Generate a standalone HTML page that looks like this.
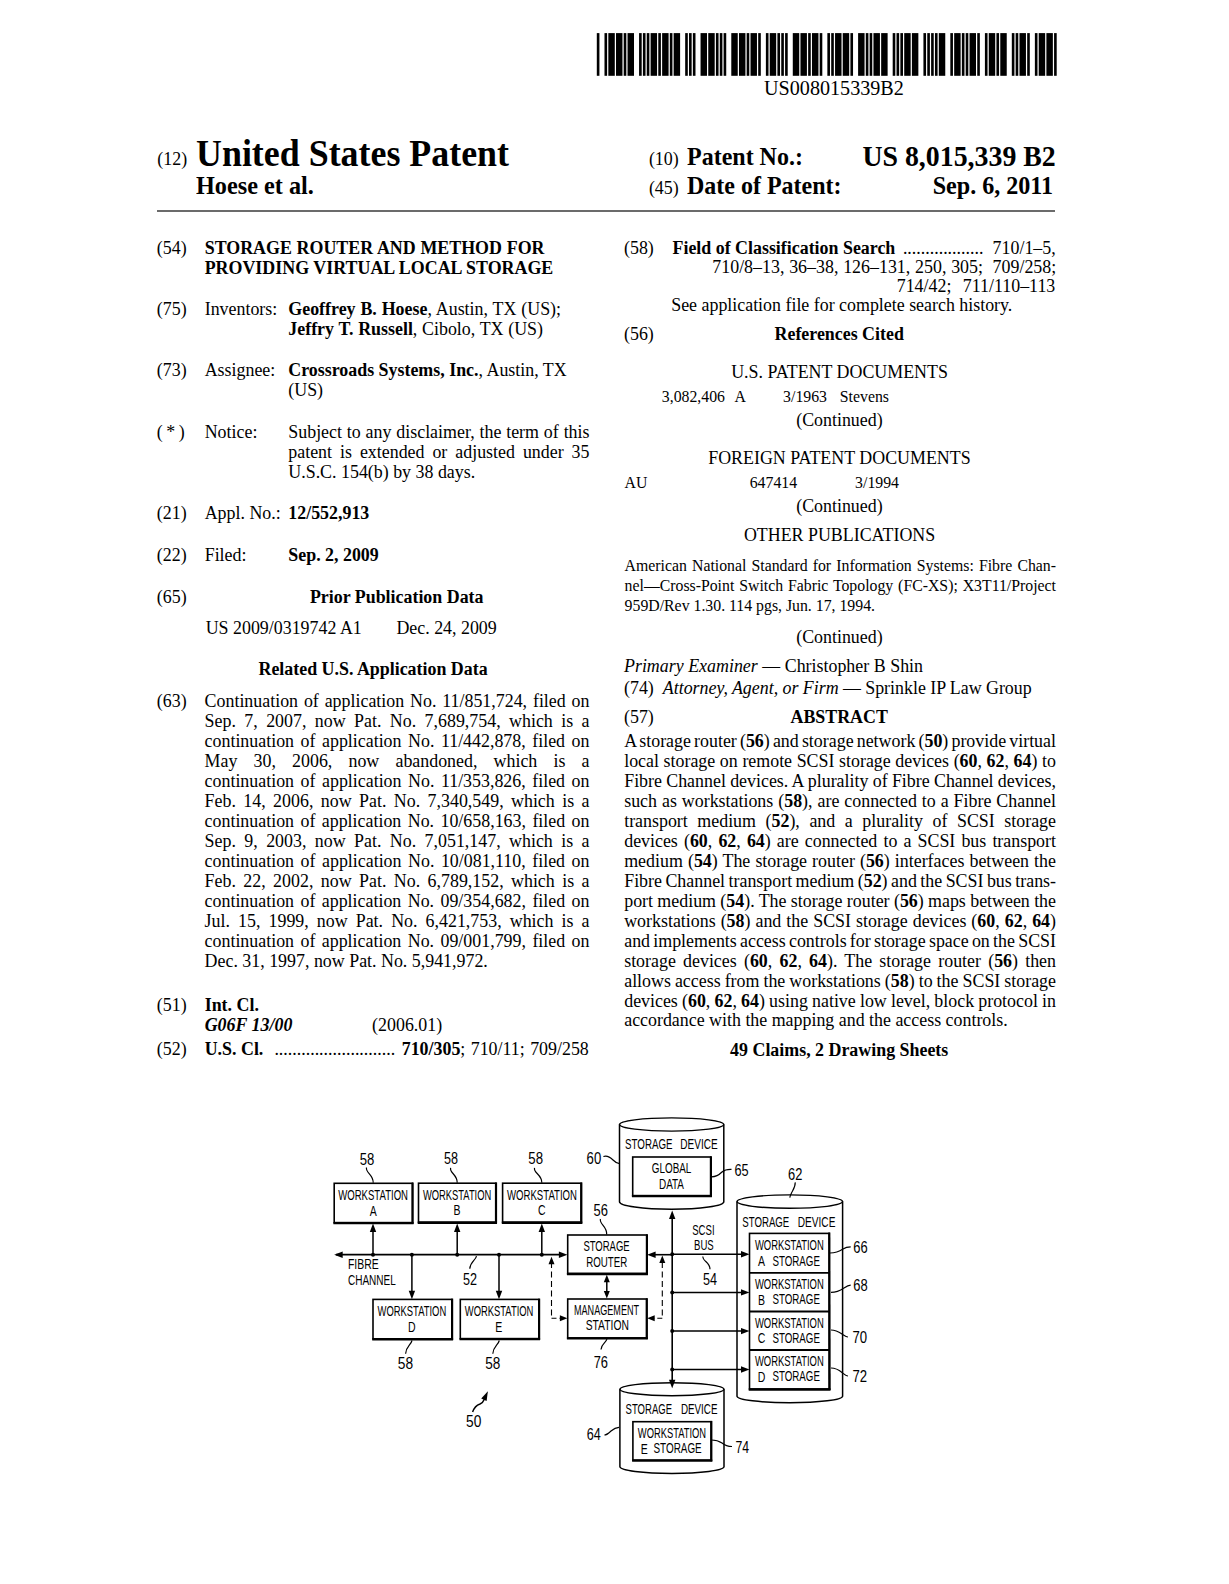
<!DOCTYPE html><html><head><meta charset="utf-8"><style>
html,body{margin:0;padding:0;background:#fff;}
body{width:1229px;height:1584px;position:relative;overflow:hidden;}
.l{position:absolute;white-space:nowrap;line-height:0;font-family:"Liberation Serif",serif;color:#000;}
.l b{font-weight:bold}
svg{position:absolute;left:0;top:0;}
</style></head><body>
<svg width="1229" height="120" style="position:absolute;left:0;top:0"><g fill="#000"><rect x="596.80" y="33.1" width="2.62" height="42.699999999999996"/><rect x="604.49" y="33.1" width="2.62" height="42.699999999999996"/><rect x="608.33" y="33.1" width="6.46" height="42.699999999999996"/><rect x="616.01" y="33.1" width="6.46" height="42.699999999999996"/><rect x="623.70" y="33.1" width="2.62" height="42.699999999999996"/><rect x="627.54" y="33.1" width="6.46" height="42.699999999999996"/><rect x="639.07" y="33.1" width="2.62" height="42.699999999999996"/><rect x="642.91" y="33.1" width="2.62" height="42.699999999999996"/><rect x="646.75" y="33.1" width="2.62" height="42.699999999999996"/><rect x="650.60" y="33.1" width="6.46" height="42.699999999999996"/><rect x="658.28" y="33.1" width="2.62" height="42.699999999999996"/><rect x="662.13" y="33.1" width="6.46" height="42.699999999999996"/><rect x="669.81" y="33.1" width="2.62" height="42.699999999999996"/><rect x="673.65" y="33.1" width="6.46" height="42.699999999999996"/><rect x="685.18" y="33.1" width="2.62" height="42.699999999999996"/><rect x="689.02" y="33.1" width="2.62" height="42.699999999999996"/><rect x="692.87" y="33.1" width="2.62" height="42.699999999999996"/><rect x="700.55" y="33.1" width="6.46" height="42.699999999999996"/><rect x="708.24" y="33.1" width="6.46" height="42.699999999999996"/><rect x="715.92" y="33.1" width="2.62" height="42.699999999999996"/><rect x="719.77" y="33.1" width="2.62" height="42.699999999999996"/><rect x="723.61" y="33.1" width="2.62" height="42.699999999999996"/><rect x="731.29" y="33.1" width="6.46" height="42.699999999999996"/><rect x="738.98" y="33.1" width="6.46" height="42.699999999999996"/><rect x="746.66" y="33.1" width="2.62" height="42.699999999999996"/><rect x="750.51" y="33.1" width="6.46" height="42.699999999999996"/><rect x="758.19" y="33.1" width="2.62" height="42.699999999999996"/><rect x="765.88" y="33.1" width="2.62" height="42.699999999999996"/><rect x="769.72" y="33.1" width="6.46" height="42.699999999999996"/><rect x="777.41" y="33.1" width="2.62" height="42.699999999999996"/><rect x="781.25" y="33.1" width="2.62" height="42.699999999999996"/><rect x="785.09" y="33.1" width="2.62" height="42.699999999999996"/><rect x="792.78" y="33.1" width="6.46" height="42.699999999999996"/><rect x="800.46" y="33.1" width="6.46" height="42.699999999999996"/><rect x="808.15" y="33.1" width="2.62" height="42.699999999999996"/><rect x="811.99" y="33.1" width="6.46" height="42.699999999999996"/><rect x="819.68" y="33.1" width="2.62" height="42.699999999999996"/><rect x="827.36" y="33.1" width="2.62" height="42.699999999999996"/><rect x="831.20" y="33.1" width="2.62" height="42.699999999999996"/><rect x="835.05" y="33.1" width="6.46" height="42.699999999999996"/><rect x="842.73" y="33.1" width="6.46" height="42.699999999999996"/><rect x="850.42" y="33.1" width="2.62" height="42.699999999999996"/><rect x="858.10" y="33.1" width="6.46" height="42.699999999999996"/><rect x="865.79" y="33.1" width="2.62" height="42.699999999999996"/><rect x="869.63" y="33.1" width="2.62" height="42.699999999999996"/><rect x="873.47" y="33.1" width="6.46" height="42.699999999999996"/><rect x="881.16" y="33.1" width="6.46" height="42.699999999999996"/><rect x="892.69" y="33.1" width="2.62" height="42.699999999999996"/><rect x="896.53" y="33.1" width="2.62" height="42.699999999999996"/><rect x="900.37" y="33.1" width="2.62" height="42.699999999999996"/><rect x="904.21" y="33.1" width="6.46" height="42.699999999999996"/><rect x="911.90" y="33.1" width="6.46" height="42.699999999999996"/><rect x="923.43" y="33.1" width="2.62" height="42.699999999999996"/><rect x="927.27" y="33.1" width="2.62" height="42.699999999999996"/><rect x="931.11" y="33.1" width="2.62" height="42.699999999999996"/><rect x="934.96" y="33.1" width="2.62" height="42.699999999999996"/><rect x="938.80" y="33.1" width="6.46" height="42.699999999999996"/><rect x="950.33" y="33.1" width="2.62" height="42.699999999999996"/><rect x="954.17" y="33.1" width="6.46" height="42.699999999999996"/><rect x="961.85" y="33.1" width="2.62" height="42.699999999999996"/><rect x="965.70" y="33.1" width="2.62" height="42.699999999999996"/><rect x="969.54" y="33.1" width="6.46" height="42.699999999999996"/><rect x="977.23" y="33.1" width="2.62" height="42.699999999999996"/><rect x="984.91" y="33.1" width="2.62" height="42.699999999999996"/><rect x="988.75" y="33.1" width="6.46" height="42.699999999999996"/><rect x="996.44" y="33.1" width="2.62" height="42.699999999999996"/><rect x="1000.28" y="33.1" width="6.46" height="42.699999999999996"/><rect x="1011.81" y="33.1" width="2.62" height="42.699999999999996"/><rect x="1015.65" y="33.1" width="2.62" height="42.699999999999996"/><rect x="1019.49" y="33.1" width="6.46" height="42.699999999999996"/><rect x="1027.18" y="33.1" width="2.62" height="42.699999999999996"/><rect x="1034.87" y="33.1" width="2.62" height="42.699999999999996"/><rect x="1038.71" y="33.1" width="6.46" height="42.699999999999996"/><rect x="1046.39" y="33.1" width="6.46" height="42.699999999999996"/><rect x="1054.08" y="33.1" width="2.62" height="42.699999999999996"/></g></svg>
<div style="position:absolute;left:157px;top:210px;width:898px;height:2px;background:#6b6b6b"></div>
<div class="l" id="t0" style="top:87.69px;font-size:21.359px;transform:scaleX(0.9434);transform-origin:left center;left:764.00px;">US008015339B2</div>
<div class="l" id="t1" style="top:158.96px;font-size:17.900px;left:157.30px;">(12)</div>
<div class="l" id="t2" style="top:153.92px;font-size:36.977px;transform:scaleX(0.9709);transform-origin:left center;left:196.40px;"><b>United States Patent</b></div>
<div class="l" id="t3" style="top:185.76px;font-size:26.190px;transform:scaleX(0.9259);transform-origin:left center;left:196.10px;"><b>Hoese et al.</b></div>
<div class="l" id="t4" style="top:158.56px;font-size:17.900px;left:648.90px;">(10)</div>
<div class="l" id="t5" style="top:156.53px;font-size:25.680px;transform:scaleX(0.9346);transform-origin:left center;left:686.60px;"><b>Patent No.:</b></div>
<div class="l" id="t6" style="top:155.75px;font-size:30.357px;transform:scaleX(0.9174);transform-origin:right center;right:173.30px;"><b>US 8,015,339 B2</b></div>
<div class="l" id="t7" style="top:188.16px;font-size:17.900px;left:648.90px;">(45)</div>
<div class="l" id="t8" style="top:185.93px;font-size:25.680px;transform:scaleX(0.9346);transform-origin:left center;left:687.00px;"><b>Date of Patent:</b></div>
<div class="l" id="t9" style="top:186.02px;font-size:26.028px;transform:scaleX(0.9259);transform-origin:right center;right:176.20px;"><b>Sep. 6, 2011</b></div>
<div class="l" id="t10" style="top:247.96px;font-size:17.900px;left:156.80px;">(54)</div>
<div class="l" id="t11" style="top:247.96px;font-size:17.900px;left:204.70px;word-spacing:0.290px;"><b>STORAGE ROUTER AND METHOD FOR</b></div>
<div class="l" id="t12" style="top:268.26px;font-size:17.900px;left:204.70px;word-spacing:0.148px;"><b>PROVIDING VIRTUAL LOCAL STORAGE</b></div>
<div class="l" id="t13" style="top:308.56px;font-size:17.900px;left:156.80px;">(75)</div>
<div class="l" id="t14" style="top:308.56px;font-size:17.900px;left:204.70px;">Inventors:</div>
<div class="l" id="t15" style="top:308.56px;font-size:17.900px;left:288.30px;word-spacing:0.409px;"><b>Geoffrey B. Hoese</b>, Austin, TX (US);</div>
<div class="l" id="t16" style="top:328.56px;font-size:17.900px;left:288.30px;word-spacing:0.246px;"><b>Jeffry T. Russell</b>, Cibolo, TX (US)</div>
<div class="l" id="t17" style="top:370.16px;font-size:17.900px;left:156.80px;">(73)</div>
<div class="l" id="t18" style="top:370.16px;font-size:17.900px;left:204.70px;">Assignee:</div>
<div class="l" id="t19" style="top:370.16px;font-size:17.900px;left:288.30px;"><b>Crossroads Systems, Inc.</b>, Austin, TX</div>
<div class="l" id="t20" style="top:390.36px;font-size:17.900px;left:288.30px;">(US)</div>
<div class="l" id="t21" style="top:431.76px;font-size:17.900px;left:156.80px;">(&thinsp;*&thinsp;)</div>
<div class="l" id="t22" style="top:431.76px;font-size:17.900px;left:204.70px;">Notice:</div>
<div class="l" id="t23" style="top:431.76px;font-size:17.900px;left:288.30px;word-spacing:0.401px;">Subject to any disclaimer, the term of this</div>
<div class="l" id="t24" style="top:451.76px;font-size:17.900px;left:288.30px;word-spacing:3.497px;">patent is extended or adjusted under 35</div>
<div class="l" id="t25" style="top:471.56px;font-size:17.900px;left:288.30px;">U.S.C. 154(b) by 38 days.</div>
<div class="l" id="t26" style="top:512.66px;font-size:17.900px;left:156.80px;">(21)</div>
<div class="l" id="t27" style="top:512.66px;font-size:17.900px;left:204.70px;">Appl. No.:</div>
<div class="l" id="t28" style="top:512.66px;font-size:17.900px;left:288.30px;"><b>12/552,913</b></div>
<div class="l" id="t29" style="top:554.56px;font-size:17.900px;left:156.80px;">(22)</div>
<div class="l" id="t30" style="top:554.56px;font-size:17.900px;left:204.70px;">Filed:</div>
<div class="l" id="t31" style="top:554.56px;font-size:17.900px;left:288.30px;"><b>Sep. 2, 2009</b></div>
<div class="l" id="t32" style="top:597.36px;font-size:17.900px;left:156.80px;">(65)</div>
<div class="l" id="t33" style="top:597.36px;font-size:17.900px;left:-103.30px;width:1000px;text-align:center;"><b>Prior Publication Data</b></div>
<div class="l" id="t34" style="top:627.66px;font-size:17.900px;left:205.70px;">US 2009/0319742 A1</div>
<div class="l" id="t35" style="top:627.66px;font-size:17.900px;left:396.40px;">Dec. 24, 2009</div>
<div class="l" id="t36" style="top:668.86px;font-size:17.900px;left:258.50px;"><b>Related U.S. Application Data</b></div>
<div class="l" id="t37" style="top:700.96px;font-size:17.900px;left:156.80px;">(63)</div>
<div class="l" id="t38" style="top:700.96px;font-size:17.900px;left:204.60px;word-spacing:1.403px;">Continuation of application No. 11/851,724, filed on</div>
<div class="l" id="t39" style="top:720.96px;font-size:17.900px;left:204.60px;word-spacing:3.949px;">Sep. 7, 2007, now Pat. No. 7,689,754, which is a</div>
<div class="l" id="t40" style="top:740.96px;font-size:17.900px;left:204.60px;word-spacing:2.067px;">continuation of application No. 11/442,878, filed on</div>
<div class="l" id="t41" style="top:760.96px;font-size:17.900px;left:204.60px;word-spacing:11.687px;">May 30, 2006, now abandoned, which is a</div>
<div class="l" id="t42" style="top:780.96px;font-size:17.900px;left:204.60px;word-spacing:2.067px;">continuation of application No. 11/353,826, filed on</div>
<div class="l" id="t43" style="top:800.96px;font-size:17.900px;left:204.60px;word-spacing:2.956px;">Feb. 14, 2006, now Pat. No. 7,340,549, which is a</div>
<div class="l" id="t44" style="top:820.96px;font-size:17.900px;left:204.60px;word-spacing:1.957px;">continuation of application No. 10/658,163, filed on</div>
<div class="l" id="t45" style="top:840.96px;font-size:17.900px;left:204.60px;word-spacing:3.949px;">Sep. 9, 2003, now Pat. No. 7,051,147, which is a</div>
<div class="l" id="t46" style="top:860.96px;font-size:17.900px;left:204.60px;word-spacing:2.067px;">continuation of application No. 10/081,110, filed on</div>
<div class="l" id="t47" style="top:880.96px;font-size:17.900px;left:204.60px;word-spacing:2.956px;">Feb. 22, 2002, now Pat. No. 6,789,152, which is a</div>
<div class="l" id="t48" style="top:900.96px;font-size:17.900px;left:204.60px;word-spacing:1.957px;">continuation of application No. 09/354,682, filed on</div>
<div class="l" id="t49" style="top:920.96px;font-size:17.900px;left:204.60px;word-spacing:3.617px;">Jul. 15, 1999, now Pat. No. 6,421,753, which is a</div>
<div class="l" id="t50" style="top:940.96px;font-size:17.900px;left:204.60px;word-spacing:1.957px;">continuation of application No. 09/001,799, filed on</div>
<div class="l" id="t51" style="top:960.96px;font-size:17.900px;left:204.60px;">Dec. 31, 1997, now Pat. No. 5,941,972.</div>
<div class="l" id="t52" style="top:1005.26px;font-size:17.900px;left:156.80px;">(51)</div>
<div class="l" id="t53" style="top:1005.26px;font-size:17.900px;left:204.70px;"><b>Int. Cl.</b></div>
<div class="l" id="t54" style="top:1025.06px;font-size:17.900px;left:204.70px;"><b><i>G06F 13/00</i></b></div>
<div class="l" id="t55" style="top:1025.06px;font-size:17.900px;left:372.10px;">(2006.01)</div>
<div class="l" id="t56" style="top:1049.26px;font-size:17.900px;left:156.80px;">(52)</div>
<div class="l" id="t57" style="top:1049.26px;font-size:17.900px;left:204.70px;"><b>U.S. Cl.</b></div>
<div class="l" id="t58" style="top:1049.26px;font-size:17.900px;left:274.40px;">...........................</div>
<div class="l" id="t59" style="top:1049.26px;font-size:17.900px;left:401.70px;word-spacing:0.941px;"><b>710/305</b>; 710/11; 709/258</div>
<div class="l" id="t60" style="top:248.16px;font-size:17.900px;left:624.00px;">(58)</div>
<div class="l" id="t61" style="top:248.46px;font-size:17.900px;left:672.50px;"><b>Field of Classification Search</b></div>
<div class="l" id="t62" style="top:247.86px;font-size:17.900px;left:902.90px;">..................</div>
<div class="l" id="t63" style="top:247.86px;font-size:17.900px;left:992.60px;">710/1&ndash;5,</div>
<div class="l" id="t64" style="top:267.16px;font-size:17.900px;left:712.30px;word-spacing:0.330px;">710/8&ndash;13, 36&ndash;38, 126&ndash;131, 250, 305;&nbsp; 709/258;</div>
<div class="l" id="t65" style="top:285.76px;font-size:17.900px;left:896.70px;word-spacing:1.277px;">714/42;&nbsp; 711/110&ndash;113</div>
<div class="l" id="t66" style="top:304.96px;font-size:17.900px;left:671.20px;">See application file for complete search history.</div>
<div class="l" id="t67" style="top:333.96px;font-size:17.900px;left:624.00px;">(56)</div>
<div class="l" id="t68" style="top:333.96px;font-size:17.900px;left:339.20px;width:1000px;text-align:center;"><b>References Cited</b></div>
<div class="l" id="t69" style="top:371.76px;font-size:17.900px;left:731.20px;">U.S. PATENT DOCUMENTS</div>
<div class="l" id="t70" style="top:396.97px;font-size:15.800px;left:661.80px;">3,082,406</div>
<div class="l" id="t71" style="top:396.97px;font-size:15.800px;left:734.40px;">A</div>
<div class="l" id="t72" style="top:396.97px;font-size:15.800px;left:783.10px;">3/1963</div>
<div class="l" id="t73" style="top:396.97px;font-size:15.800px;left:839.80px;">Stevens</div>
<div class="l" id="t74" style="top:419.76px;font-size:17.900px;left:796.20px;">(Continued)</div>
<div class="l" id="t75" style="top:458.16px;font-size:17.900px;left:708.20px;">FOREIGN PATENT DOCUMENTS</div>
<div class="l" id="t76" style="top:482.97px;font-size:15.800px;left:624.60px;">AU</div>
<div class="l" id="t77" style="top:482.97px;font-size:15.800px;left:749.70px;">647414</div>
<div class="l" id="t78" style="top:482.97px;font-size:15.800px;left:855.10px;">3/1994</div>
<div class="l" id="t79" style="top:505.56px;font-size:17.900px;left:796.20px;">(Continued)</div>
<div class="l" id="t80" style="top:535.26px;font-size:17.900px;left:743.90px;">OTHER PUBLICATIONS</div>
<div class="l" id="t81" style="top:566.47px;font-size:15.800px;left:624.60px;word-spacing:1.149px;">American National Standard for Information Systems: Fibre Chan-</div>
<div class="l" id="t82" style="top:585.87px;font-size:15.800px;left:624.60px;word-spacing:0.936px;">nel&mdash;Cross-Point Switch Fabric Topology (FC-XS); X3T11/Project</div>
<div class="l" id="t83" style="top:605.57px;font-size:15.800px;left:624.60px;">959D/Rev 1.30. 114 pgs, Jun. 17, 1994.</div>
<div class="l" id="t84" style="top:637.26px;font-size:17.900px;left:796.20px;">(Continued)</div>
<div class="l" id="t85" style="top:666.26px;font-size:17.900px;left:624.00px;word-spacing:0.069px;"><i>Primary Examiner</i> &mdash; Christopher B Shin</div>
<div class="l" id="t86" style="top:688.26px;font-size:17.900px;left:624.00px;">(74)</div>
<div class="l" id="t87" style="top:688.26px;font-size:17.900px;left:662.80px;word-spacing:-0.102px;"><i>Attorney, Agent, or Firm</i> &mdash; Sprinkle IP Law Group</div>
<div class="l" id="t88" style="top:716.86px;font-size:17.900px;left:624.00px;">(57)</div>
<div class="l" id="t89" style="top:716.86px;font-size:17.900px;left:339.20px;width:1000px;text-align:center;"><b>ABSTRACT</b></div>
<div class="l" id="t90" style="top:741.16px;font-size:17.900px;left:624.20px;word-spacing:-1.321px;">A storage router (<b>56</b>) and storage network (<b>50</b>) provide virtual</div>
<div class="l" id="t91" style="top:761.11px;font-size:17.900px;left:624.20px;word-spacing:0.150px;">local storage on remote SCSI storage devices (<b>60</b>, <b>62</b>, <b>64</b>) to</div>
<div class="l" id="t92" style="top:781.06px;font-size:17.900px;left:624.20px;word-spacing:-0.183px;">Fibre Channel devices. A plurality of Fibre Channel devices,</div>
<div class="l" id="t93" style="top:801.01px;font-size:17.900px;left:624.20px;word-spacing:0.502px;">such as workstations (<b>58</b>), are connected to a Fibre Channel</div>
<div class="l" id="t94" style="top:820.96px;font-size:17.900px;left:624.20px;word-spacing:5.094px;">transport medium (<b>52</b>), and a plurality of SCSI storage</div>
<div class="l" id="t95" style="top:840.91px;font-size:17.900px;left:624.20px;word-spacing:1.642px;">devices (<b>60</b>, <b>62</b>, <b>64</b>) are connected to a SCSI bus transport</div>
<div class="l" id="t96" style="top:860.86px;font-size:17.900px;left:624.20px;word-spacing:0.610px;">medium (<b>54</b>) The storage router (<b>56</b>) interfaces between the</div>
<div class="l" id="t97" style="top:880.81px;font-size:17.900px;left:624.20px;word-spacing:-0.994px;">Fibre Channel transport medium (<b>52</b>) and the SCSI bus trans-</div>
<div class="l" id="t98" style="top:900.76px;font-size:17.900px;left:624.20px;word-spacing:-0.123px;">port medium (<b>54</b>). The storage router (<b>56</b>) maps between the</div>
<div class="l" id="t99" style="top:920.71px;font-size:17.900px;left:624.20px;word-spacing:0.549px;">workstations (<b>58</b>) and the SCSI storage devices (<b>60</b>, <b>62</b>, <b>64</b>)</div>
<div class="l" id="t100" style="top:940.66px;font-size:17.900px;left:624.20px;word-spacing:-1.210px;">and implements access controls for storage space on the SCSI</div>
<div class="l" id="t101" style="top:960.61px;font-size:17.900px;left:624.20px;word-spacing:2.747px;">storage devices (<b>60</b>, <b>62</b>, <b>64</b>). The storage router (<b>56</b>) then</div>
<div class="l" id="t102" style="top:980.56px;font-size:17.900px;left:624.20px;word-spacing:-0.441px;">allows access from the workstations (<b>58</b>) to the SCSI storage</div>
<div class="l" id="t103" style="top:1000.51px;font-size:17.900px;left:624.20px;word-spacing:-0.297px;">devices (<b>60</b>, <b>62</b>, <b>64</b>) using native low level, block protocol in</div>
<div class="l" id="t104" style="top:1020.46px;font-size:17.900px;left:624.20px;">accordance with the mapping and the access controls.</div>
<div class="l" id="t105" style="top:1049.86px;font-size:17.900px;left:339.20px;width:1000px;text-align:center;"><b>49 Claims, 2 Drawing Sheets</b></div>
<svg width="1229" height="1584" style="position:absolute;left:0;top:0" font-family="Liberation Sans, sans-serif" fill="#000"><rect x="334.2" y="1183.3" width="78.10" height="39.30" fill="none" stroke="#000" stroke-width="1.6"/>
<line x1="333.4" y1="1223.1" x2="413.6" y2="1223.1" stroke="#000" stroke-width="2.4"/>
<line x1="412.7" y1="1182.5" x2="412.7" y2="1223.8" stroke="#000" stroke-width="2.0"/>
<text x="338.2" y="1199.8" font-size="14.6" textLength="69.80" lengthAdjust="spacingAndGlyphs">WORKSTATION</text>
<text x="373.2" y="1215.6" font-size="14.6" text-anchor="middle" transform="translate(373.2 0) scale(0.72 1) translate(-373.2 0)">A</text>
<rect x="418.5" y="1183.2" width="77.20" height="39.00" fill="none" stroke="#000" stroke-width="1.6"/>
<line x1="417.7" y1="1222.7" x2="497.0" y2="1222.7" stroke="#000" stroke-width="2.4"/>
<line x1="496.09999999999997" y1="1182.4" x2="496.09999999999997" y2="1223.4" stroke="#000" stroke-width="2.0"/>
<text x="422.9" y="1199.5" font-size="14.6" textLength="68.40" lengthAdjust="spacingAndGlyphs">WORKSTATION</text>
<text x="456.9" y="1215.3999999999999" font-size="14.6" text-anchor="middle" transform="translate(456.9 0) scale(0.72 1) translate(-456.9 0)">B</text>
<rect x="502.6" y="1183.2" width="78.40" height="39.00" fill="none" stroke="#000" stroke-width="1.6"/>
<line x1="501.8" y1="1222.7" x2="582.3" y2="1222.7" stroke="#000" stroke-width="2.4"/>
<line x1="581.4" y1="1182.4" x2="581.4" y2="1223.4" stroke="#000" stroke-width="2.0"/>
<text x="507.0" y="1199.5" font-size="14.6" textLength="70.00" lengthAdjust="spacingAndGlyphs">WORKSTATION</text>
<text x="541.8" y="1215.3999999999999" font-size="14.6" text-anchor="middle" transform="translate(541.8 0) scale(0.72 1) translate(-541.8 0)">C</text>
<text x="359.8" y="1165.1000000000001" font-size="16" textLength="14.60" lengthAdjust="spacingAndGlyphs">58</text>
<path d="M366.5,1167.5 C365.28,1172.82 373.50,1174.34 373.2,1182.7" fill="none" stroke="#000" stroke-width="1.2"/>
<text x="444.0" y="1164.3" font-size="16" textLength="14.00" lengthAdjust="spacingAndGlyphs">58</text>
<path d="M450.6,1167.8 C449.40,1173.05 457.50,1174.55 457.2,1182.8" fill="none" stroke="#000" stroke-width="1.2"/>
<text x="528.3" y="1164.3" font-size="16" textLength="14.70" lengthAdjust="spacingAndGlyphs">58</text>
<path d="M534.5,1167.8 C533.30,1173.05 542.10,1174.55 541.8,1182.8" fill="none" stroke="#000" stroke-width="1.2"/>
<line x1="336" y1="1254.7" x2="560" y2="1254.7" stroke="#000" stroke-width="1.7"/>
<polygon points="334.20,1254.70 342.70,1251.50 342.70,1257.90" fill="#000"/>
<polygon points="567.40,1254.70 558.90,1251.50 558.90,1257.90" fill="#000"/>
<line x1="373.0" y1="1254.7" x2="373.0" y2="1230" stroke="#000" stroke-width="1.5"/>
<polygon points="373.00,1223.60 369.80,1232.10 376.20,1232.10" fill="#000"/>
<circle cx="373.0" cy="1254.7" r="2.0" fill="#000"/>
<line x1="457.2" y1="1254.7" x2="457.2" y2="1230" stroke="#000" stroke-width="1.5"/>
<polygon points="457.20,1223.60 454.00,1232.10 460.40,1232.10" fill="#000"/>
<circle cx="457.2" cy="1254.7" r="2.0" fill="#000"/>
<line x1="541.8" y1="1254.7" x2="541.8" y2="1230" stroke="#000" stroke-width="1.5"/>
<polygon points="541.80,1223.60 538.60,1232.10 545.00,1232.10" fill="#000"/>
<circle cx="541.8" cy="1254.7" r="2.0" fill="#000"/>
<line x1="411.9" y1="1254.7" x2="411.9" y2="1292" stroke="#000" stroke-width="1.5"/>
<polygon points="411.90,1299.20 408.70,1290.70 415.10,1290.70" fill="#000"/>
<circle cx="411.9" cy="1254.7" r="2.0" fill="#000"/>
<line x1="499.0" y1="1254.7" x2="499.0" y2="1292" stroke="#000" stroke-width="1.5"/>
<polygon points="499.00,1299.20 495.80,1290.70 502.20,1290.70" fill="#000"/>
<circle cx="499.0" cy="1254.7" r="2.0" fill="#000"/>
<text x="348.0" y="1269.4" font-size="14.6" textLength="30.70" lengthAdjust="spacingAndGlyphs">FIBRE</text>
<text x="348.0" y="1284.7" font-size="14.6" textLength="47.80" lengthAdjust="spacingAndGlyphs">CHANNEL</text>
<text x="463.0" y="1284.9" font-size="16" textLength="14.00" lengthAdjust="spacingAndGlyphs">52</text>
<path d="M476.5,1256.2 C475.49,1260.61 470.05,1261.87 469.8,1268.8" fill="none" stroke="#000" stroke-width="1.2"/>
<rect x="373.0" y="1299.4" width="78.80" height="39.40" fill="none" stroke="#000" stroke-width="1.6"/>
<line x1="372.2" y1="1339.3" x2="453.1" y2="1339.3" stroke="#000" stroke-width="2.4"/>
<line x1="452.2" y1="1298.6000000000001" x2="452.2" y2="1340.0" stroke="#000" stroke-width="2.0"/>
<text x="377.6" y="1315.8" font-size="14.6" textLength="68.60" lengthAdjust="spacingAndGlyphs">WORKSTATION</text>
<text x="411.8" y="1332.0" font-size="14.6" text-anchor="middle" transform="translate(411.8 0) scale(0.72 1) translate(-411.8 0)">D</text>
<rect x="460.3" y="1299.4" width="78.50" height="39.20" fill="none" stroke="#000" stroke-width="1.6"/>
<line x1="459.5" y1="1339.1" x2="540.0999999999999" y2="1339.1" stroke="#000" stroke-width="2.4"/>
<line x1="539.1999999999999" y1="1298.6000000000001" x2="539.1999999999999" y2="1339.8" stroke="#000" stroke-width="2.0"/>
<text x="464.8" y="1315.8" font-size="14.6" textLength="68.60" lengthAdjust="spacingAndGlyphs">WORKSTATION</text>
<text x="498.7" y="1332.0" font-size="14.6" text-anchor="middle" transform="translate(498.7 0) scale(0.72 1) translate(-498.7 0)">E</text>
<text x="397.8" y="1369.1000000000001" font-size="16" textLength="15.30" lengthAdjust="spacingAndGlyphs">58</text>
<path d="M412.0,1340.5 C410.94,1345.15 405.87,1346.48 405.6,1353.8" fill="none" stroke="#000" stroke-width="1.2"/>
<text x="485.3" y="1369.1000000000001" font-size="16" textLength="15.10" lengthAdjust="spacingAndGlyphs">58</text>
<path d="M499.3,1340.5 C498.24,1345.15 493.07,1346.48 492.8,1353.8" fill="none" stroke="#000" stroke-width="1.2"/>
<rect x="567.7" y="1235.0" width="78.90" height="38.50" fill="none" stroke="#000" stroke-width="1.6"/>
<line x1="566.9000000000001" y1="1274.0" x2="647.9" y2="1274.0" stroke="#000" stroke-width="2.4"/>
<line x1="647.0" y1="1234.2" x2="647.0" y2="1274.7" stroke="#000" stroke-width="2.0"/>
<text x="583.4" y="1251.3" font-size="14.6" textLength="46.30" lengthAdjust="spacingAndGlyphs">STORAGE</text>
<text x="586.2" y="1266.5" font-size="14.6" textLength="41.00" lengthAdjust="spacingAndGlyphs">ROUTER</text>
<text x="593.6" y="1216.3" font-size="16" textLength="14.40" lengthAdjust="spacingAndGlyphs">56</text>
<path d="M600.4,1219.0 C599.17,1224.39 607.01,1225.93 606.7,1234.4" fill="none" stroke="#000" stroke-width="1.2"/>
<rect x="567.7" y="1299.0" width="78.80" height="38.90" fill="none" stroke="#000" stroke-width="1.6"/>
<line x1="566.9000000000001" y1="1338.4" x2="647.8" y2="1338.4" stroke="#000" stroke-width="2.4"/>
<line x1="646.9" y1="1298.2" x2="646.9" y2="1339.1000000000001" stroke="#000" stroke-width="2.0"/>
<text x="574.0" y="1315.4" font-size="14.6" textLength="65.10" lengthAdjust="spacingAndGlyphs">MANAGEMENT</text>
<text x="585.7" y="1330.3" font-size="14.6" textLength="43.20" lengthAdjust="spacingAndGlyphs">STATION</text>
<text x="593.7" y="1368.1000000000001" font-size="16" textLength="14.30" lengthAdjust="spacingAndGlyphs">76</text>
<path d="M606.9,1339.2 C606.08,1342.81 601.21,1343.84 601.0,1349.5" fill="none" stroke="#000" stroke-width="1.2"/>
<line x1="606.8" y1="1280" x2="606.8" y2="1293" stroke="#000" stroke-width="1.5"/>
<polygon points="606.80,1274.80 603.80,1282.30 609.80,1282.30" fill="#000"/>
<polygon points="606.80,1298.60 603.80,1291.10 609.80,1291.10" fill="#000"/>
<line x1="551.5" y1="1262" x2="551.5" y2="1318.3" stroke="#000" stroke-width="1.1" stroke-dasharray="6,3.5"/>
<line x1="551.5" y1="1318.3" x2="560" y2="1318.3" stroke="#000" stroke-width="1.1" stroke-dasharray="5,3"/>
<polygon points="551.50,1256.80 548.50,1264.30 554.50,1264.30" fill="#000"/>
<polygon points="567.40,1318.30 559.90,1315.30 559.90,1321.30" fill="#000"/>
<line x1="662.3" y1="1262" x2="662.3" y2="1318.3" stroke="#000" stroke-width="1.1" stroke-dasharray="6,3.5"/>
<line x1="662.3" y1="1318.3" x2="654" y2="1318.3" stroke="#000" stroke-width="1.1" stroke-dasharray="5,3"/>
<polygon points="662.30,1255.60 659.30,1263.10 665.30,1263.10" fill="#000"/>
<polygon points="647.20,1318.30 654.70,1315.30 654.70,1321.30" fill="#000"/>
<line x1="672.2" y1="1218" x2="672.2" y2="1381" stroke="#000" stroke-width="1.6"/>
<polygon points="672.20,1210.60 669.00,1219.10 675.40,1219.10" fill="#000"/>
<polygon points="672.20,1388.20 669.00,1379.70 675.40,1379.70" fill="#000"/>
<line x1="654" y1="1254.7" x2="672.2" y2="1254.7" stroke="#000" stroke-width="1.6"/>
<polygon points="647.10,1254.70 655.60,1251.50 655.60,1257.90" fill="#000"/>
<line x1="672.2" y1="1254.3" x2="742" y2="1254.3" stroke="#000" stroke-width="1.5"/>
<polygon points="749.50,1254.30 741.00,1251.10 741.00,1257.50" fill="#000"/>
<circle cx="672.2" cy="1254.3" r="2.0" fill="#000"/>
<line x1="672.2" y1="1292.4" x2="742" y2="1292.4" stroke="#000" stroke-width="1.5"/>
<polygon points="749.50,1292.40 741.00,1289.20 741.00,1295.60" fill="#000"/>
<circle cx="672.2" cy="1292.4" r="2.0" fill="#000"/>
<line x1="672.2" y1="1331.1" x2="742" y2="1331.1" stroke="#000" stroke-width="1.5"/>
<polygon points="749.50,1331.10 741.00,1327.90 741.00,1334.30" fill="#000"/>
<circle cx="672.2" cy="1331.1" r="2.0" fill="#000"/>
<line x1="672.2" y1="1369.5" x2="742" y2="1369.5" stroke="#000" stroke-width="1.5"/>
<polygon points="749.50,1369.50 741.00,1366.30 741.00,1372.70" fill="#000"/>
<circle cx="672.2" cy="1369.5" r="2.0" fill="#000"/>
<text x="692.2" y="1235.2" font-size="14.6" textLength="22.40" lengthAdjust="spacingAndGlyphs">SCSI</text>
<text x="694.0" y="1250.4" font-size="14.6" textLength="19.70" lengthAdjust="spacingAndGlyphs">BUS</text>
<text x="703.0" y="1285.1000000000001" font-size="16" textLength="14.00" lengthAdjust="spacingAndGlyphs">54</text>
<path d="M703.0,1256.5 C701.98,1260.94 710.25,1262.21 710.0,1269.2" fill="none" stroke="#000" stroke-width="1.2"/>
<ellipse cx="671.65" cy="1124.5" rx="52.14999999999998" ry="6.6" fill="none" stroke="#000" stroke-width="1.4"/>
<path d="M619.5,1124.5 L619.5,1201.7 A52.14999999999998,7.6 0 0 0 723.8,1201.7 L723.8,1124.5" fill="none" stroke="#000" stroke-width="1.5"/>
<text x="625.1" y="1148.9" font-size="14.6" textLength="47.40" lengthAdjust="spacingAndGlyphs">STORAGE</text>
<text x="680.3" y="1148.9" font-size="14.6" textLength="37.40" lengthAdjust="spacingAndGlyphs">DEVICE</text>
<rect x="632.7" y="1157.0" width="77.90" height="38.60" fill="none" stroke="#000" stroke-width="1.6"/>
<line x1="631.9000000000001" y1="1196.1" x2="711.9" y2="1196.1" stroke="#000" stroke-width="2.4"/>
<line x1="711.0" y1="1156.2" x2="711.0" y2="1196.8" stroke="#000" stroke-width="2.0"/>
<text x="651.8" y="1173.1" font-size="14.6" textLength="39.50" lengthAdjust="spacingAndGlyphs">GLOBAL</text>
<text x="659.0" y="1188.8" font-size="14.6" textLength="25.00" lengthAdjust="spacingAndGlyphs">DATA</text>
<text x="586.6" y="1163.5" font-size="16" textLength="14.60" lengthAdjust="spacingAndGlyphs">60</text>
<path d="M603.4,1156.5 C607,1155 610,1157 613,1160 C615,1162 617,1163.5 619.5,1163.6" fill="none" stroke="#000" stroke-width="1.2"/>
<text x="734.5" y="1176.0" font-size="16" textLength="14.20" lengthAdjust="spacingAndGlyphs">65</text>
<path d="M711,1176.8 C716,1177 719,1175 722,1172 C725,1169.5 727,1169.2 731.5,1169.4" fill="none" stroke="#000" stroke-width="1.2"/>
<ellipse cx="789.8" cy="1201.6" rx="52.80000000000001" ry="6.7" fill="none" stroke="#000" stroke-width="1.4"/>
<path d="M737.0,1201.6 L737.0,1396.2 A52.80000000000001,6.5 0 0 0 842.6,1396.2 L842.6,1201.6" fill="none" stroke="#000" stroke-width="1.5"/>
<text x="742.3" y="1227.1" font-size="14.6" textLength="47.00" lengthAdjust="spacingAndGlyphs">STORAGE</text>
<text x="797.8" y="1227.1" font-size="14.6" textLength="37.60" lengthAdjust="spacingAndGlyphs">DEVICE</text>
<rect x="749.5" y="1233.4" width="79.7" height="155.6" fill="none" stroke="#000" stroke-width="1.6"/>
<line x1="829.3" y1="1232.6" x2="829.6" y2="1390" stroke="#000" stroke-width="2.2"/>
<line x1="748.7" y1="1389.5" x2="830.5" y2="1389.5" stroke="#000" stroke-width="2.4"/>
<line x1="749.5" y1="1272.8" x2="829.2" y2="1272.8" stroke="#000" stroke-width="1.8"/>
<line x1="749.5" y1="1311.5" x2="829.2" y2="1311.5" stroke="#000" stroke-width="1.8"/>
<line x1="749.5" y1="1350.0" x2="829.2" y2="1350.0" stroke="#000" stroke-width="1.8"/>
<text x="788.0" y="1179.5" font-size="16" textLength="14.30" lengthAdjust="spacingAndGlyphs">62</text>
<path d="M795.2,1182.4 C795.5,1187 793,1190 791.5,1193 C790.5,1195 790,1196 789.8,1197.6" fill="none" stroke="#000" stroke-width="1.2"/>
<text x="754.9" y="1250.4" font-size="14.6" textLength="68.90" lengthAdjust="spacingAndGlyphs">WORKSTATION</text>
<text x="761.6" y="1266.1999999999998" font-size="14.6" text-anchor="middle" transform="translate(761.6 0) scale(0.72 1) translate(-761.6 0)">A</text>
<text x="772.4" y="1265.6" font-size="14.6" textLength="47.50" lengthAdjust="spacingAndGlyphs">STORAGE</text>
<text x="754.9" y="1288.8" font-size="14.6" textLength="68.90" lengthAdjust="spacingAndGlyphs">WORKSTATION</text>
<text x="761.6" y="1304.6" font-size="14.6" text-anchor="middle" transform="translate(761.6 0) scale(0.72 1) translate(-761.6 0)">B</text>
<text x="772.4" y="1304.0" font-size="14.6" textLength="47.50" lengthAdjust="spacingAndGlyphs">STORAGE</text>
<text x="754.9" y="1327.6" font-size="14.6" textLength="68.90" lengthAdjust="spacingAndGlyphs">WORKSTATION</text>
<text x="761.6" y="1343.1" font-size="14.6" text-anchor="middle" transform="translate(761.6 0) scale(0.72 1) translate(-761.6 0)">C</text>
<text x="772.4" y="1342.5" font-size="14.6" textLength="47.50" lengthAdjust="spacingAndGlyphs">STORAGE</text>
<text x="754.9" y="1365.8" font-size="14.6" textLength="68.90" lengthAdjust="spacingAndGlyphs">WORKSTATION</text>
<text x="761.6" y="1381.8999999999999" font-size="14.6" text-anchor="middle" transform="translate(761.6 0) scale(0.72 1) translate(-761.6 0)">D</text>
<text x="772.4" y="1381.3" font-size="14.6" textLength="47.50" lengthAdjust="spacingAndGlyphs">STORAGE</text>
<text x="853.3" y="1252.9" font-size="16" textLength="14.40" lengthAdjust="spacingAndGlyphs">66</text>
<path d="M830,1253 C836,1253 840,1251 843,1249 C846,1247 848,1246.8 850.7,1246.8" fill="none" stroke="#000" stroke-width="1.2"/>
<text x="853.3" y="1291.4" font-size="16" textLength="14.40" lengthAdjust="spacingAndGlyphs">68</text>
<path d="M831,1292.4 C837,1292.4 841,1290 844,1288 C847,1286 849,1285.2 850.7,1285.2" fill="none" stroke="#000" stroke-width="1.2"/>
<text x="852.4" y="1343.2" font-size="16" textLength="14.60" lengthAdjust="spacingAndGlyphs">70</text>
<path d="M831,1330 C836,1330 839,1332 842,1334 C845,1336 846,1337 848,1337" fill="none" stroke="#000" stroke-width="1.2"/>
<text x="852.4" y="1382.0" font-size="16" textLength="14.60" lengthAdjust="spacingAndGlyphs">72</text>
<path d="M831,1368 C836,1368 839,1370 842,1372.5 C845,1375 846,1376 848,1376" fill="none" stroke="#000" stroke-width="1.2"/>
<ellipse cx="671.95" cy="1389.2" rx="52.05000000000001" ry="6.5" fill="none" stroke="#000" stroke-width="1.4"/>
<path d="M619.9,1389.2 L619.9,1466.8 A52.05000000000001,6.6 0 0 0 724.0,1466.8 L724.0,1389.2" fill="none" stroke="#000" stroke-width="1.5"/>
<text x="625.6" y="1413.9" font-size="14.6" textLength="46.40" lengthAdjust="spacingAndGlyphs">STORAGE</text>
<text x="680.9" y="1413.9" font-size="14.6" textLength="36.60" lengthAdjust="spacingAndGlyphs">DEVICE</text>
<rect x="632.9" y="1421.7" width="78.10" height="38.40" fill="none" stroke="#000" stroke-width="1.6"/>
<line x1="632.1" y1="1460.6" x2="712.3" y2="1460.6" stroke="#000" stroke-width="2.4"/>
<line x1="711.4" y1="1420.9" x2="711.4" y2="1461.3" stroke="#000" stroke-width="2.0"/>
<text x="637.8" y="1437.5" font-size="14.6" textLength="68.30" lengthAdjust="spacingAndGlyphs">WORKSTATION</text>
<text x="644.2" y="1453.6" font-size="14.6" text-anchor="middle" transform="translate(644.2 0) scale(0.72 1) translate(-644.2 0)">E</text>
<text x="653.5" y="1453.0" font-size="14.6" textLength="48.20" lengthAdjust="spacingAndGlyphs">STORAGE</text>
<text x="586.8" y="1440.3" font-size="16" textLength="14.00" lengthAdjust="spacingAndGlyphs">64</text>
<path d="M604.4,1435 C607,1435 609,1433 611,1431 C614,1428.5 616,1427.5 619,1427.3" fill="none" stroke="#000" stroke-width="1.2"/>
<text x="735.4" y="1452.9" font-size="16" textLength="13.60" lengthAdjust="spacingAndGlyphs">74</text>
<path d="M711.5,1440 C716,1440 719,1441 722,1443 C725,1445.5 728,1446.5 732,1446.5" fill="none" stroke="#000" stroke-width="1.2"/>
<text x="466.0" y="1426.7" font-size="16.6" textLength="15.30" lengthAdjust="spacingAndGlyphs">50</text>
<path d="M472.6,1412.1 C474,1408 477,1405 480,1404 C482.5,1403 483.5,1401.5 484.5,1399" fill="none" stroke="#000" stroke-width="1.5"/>
<polygon points="487.9,1391.3 481.2,1398.4 486.6,1400.9" fill="#000"/></svg>
</body></html>
